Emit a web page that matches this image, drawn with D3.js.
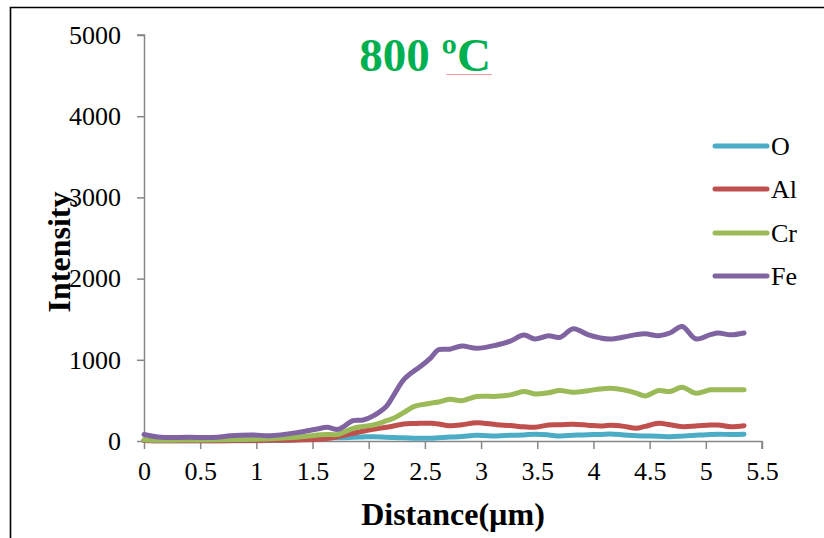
<!DOCTYPE html>
<html>
<head>
<meta charset="utf-8">
<script src="https://cdn.jsdelivr.net/npm/d3@7"></script>
<style>
  body { margin: 0; background: #fff; }
  svg { display: block; font-family: "Liberation Serif", "Times New Roman", serif; }
</style>
</head>
<body>
<svg id="chart" width="824" height="538"></svg>
<script>
// data
var seriesNames = ['O', 'Al', 'Cr', 'Fe'];
var seriesColors = ['#4bacc6', '#c0504d', '#9bbb59', '#8064a2'];

var dist = [0, 0.15, 0.4, 0.65, 0.77, 0.97, 1.12, 1.36, 1.54, 1.63, 1.73, 1.86, 1.95, 2.04, 2.16, 2.22, 2.31, 2.4, 2.46, 2.55, 2.62, 2.72, 2.83, 2.96, 3.14, 3.26, 3.38, 3.48, 3.6, 3.7, 3.82, 3.95, 4.06, 4.15, 4.27, 4.38, 4.46, 4.58, 4.68, 4.79, 4.91, 5.04, 5.11, 5.22, 5.34];

var oVals  = [5, 3, 2, 2, 3, 4, 6, 15, 50, 45, 40, 45, 50, 53, 45, 42, 40, 35, 33, 33, 40, 48, 55, 70, 62, 70, 75, 83, 75, 62, 70, 78, 80, 86, 75, 65, 62, 60, 53, 60, 70, 80, 83, 80, 83];
var alVals = [5, 3, 3, 4, 5, 6, 8, 12, 20, 30, 55, 95, 120, 144, 170, 185, 210, 215, 218, 218, 210, 189, 200, 226, 200, 190, 175, 169, 197, 200, 206, 195, 185, 193, 180, 156, 180, 218, 200, 177, 185, 197, 197, 177, 189];
var crVals = [15, 10, 12, 15, 18, 22, 28, 45, 74, 80, 82, 156, 180, 197, 250, 280, 350, 423, 445, 465, 480, 514, 497, 547, 550, 568, 609, 580, 595, 621, 601, 620, 640, 650, 630, 590, 555, 621, 609, 662, 588, 630, 630, 630, 630];
var feVals = [80, 45, 45, 45, 65, 74, 65, 103, 148, 169, 144, 250, 259, 310, 432, 560, 753, 860, 917, 1020, 1123, 1130, 1170, 1142, 1183, 1230, 1305, 1256, 1296, 1275, 1382, 1310, 1270, 1255, 1280, 1310, 1320, 1296, 1330, 1411, 1259, 1310, 1330, 1308, 1330];

var xTicks = [0, 0.5, 1, 1.5, 2, 2.5, 3, 3.5, 4, 4.5, 5, 5.5];
var yTicks = [0, 1000, 2000, 3000, 4000, 5000];

var allVals = [oVals, alVals, crVals, feVals];

var svg = d3.select('#chart');

// outer frame (only left and top edges show in the crop)
svg.append('path')
  .attr('d', 'M10.5,538 L10.5,7.5 L824,7.5')
  .attr('fill', 'none')
  .attr('stroke', '#000')
  .attr('stroke-width', 1.6);

var x = d3.scaleLinear().domain([0, 5.5]).range([144, 762]);
var y = d3.scaleLinear().domain([0, 5000]).range([441, 35]);

var xAxis = svg.append('g')
  .attr('transform', 'translate(0,441)')
  .call(d3.axisBottom(x).tickValues(xTicks).tickSize(8).tickPadding(13)
    .tickFormat(function(d){ return d; }));

var yAxis = svg.append('g')
  .attr('transform', 'translate(144,0)')
  .call(d3.axisLeft(y).tickValues(yTicks).tickSize(7).tickPadding(16)
    .tickFormat(d3.format('d')));

[xAxis, yAxis].forEach(function(ax){
  ax.select('.domain').attr('stroke', '#878787').attr('stroke-width', 1.5);
  ax.selectAll('.tick line').attr('stroke', '#878787').attr('stroke-width', 1.5);
  ax.selectAll('.tick text')
    .attr('fill', '#000')
    .style('font-family', '"Liberation Serif", serif')
    .style('font-size', '26px');
});
xAxis.select('.domain').attr('d', 'M144,0.5H762V8');
yAxis.select('.domain').attr('d', 'M-7,35H0.5V441');

// lines
var line = d3.line()
  .x(function(d){ return x(d[0]); })
  .y(function(d){ return y(d[1]); })
  .curve(d3.curveCatmullRom.alpha(0.5));

seriesNames.forEach(function(name, i){
  var pts = dist.map(function(dd, j){ return [dd, allVals[i][j]]; });
  svg.append('path')
    .datum(pts)
    .attr('d', line)
    .attr('fill', 'none')
    .attr('stroke', seriesColors[i])
    .attr('stroke-width', 5)
    .attr('stroke-linecap', 'round')
    .attr('stroke-linejoin', 'round');
});

// legend
var legendY = [146, 189, 233, 276];
seriesNames.forEach(function(name, i){
  svg.append('line')
    .attr('x1', 715).attr('x2', 767)
    .attr('y1', legendY[i]).attr('y2', legendY[i])
    .attr('stroke', seriesColors[i])
    .attr('stroke-width', 5)
    .attr('stroke-linecap', 'round');
  svg.append('text')
    .attr('x', 771).attr('y', legendY[i] + 9)
    .style('font-size', '26px')
    .text(name);
});

// title
svg.append('text')
  .attr('x', 425).attr('y', 71)
  .attr('text-anchor', 'middle')
  .attr('fill', '#00b050')
  .style('font-size', '47px')
  .style('font-weight', 'bold')
  .text('800 ºC');
svg.append('line')
  .attr('x1', 446).attr('x2', 492).attr('y1', 74.5).attr('y2', 74.5)
  .attr('stroke', '#f4a0a0').attr('stroke-width', 1);

// axis titles
svg.append('text')
  .attr('x', 453).attr('y', 525)
  .attr('text-anchor', 'middle')
  .style('font-size', '32px')
  .style('font-weight', 'bold')
  .text('Distance(µm)');

svg.append('text')
  .attr('transform', 'translate(70,252) rotate(-90)')
  .attr('text-anchor', 'middle')
  .style('font-size', '32px')
  .style('font-weight', 'bold')
  .text('Intensity');
</script>
</body>
</html>
